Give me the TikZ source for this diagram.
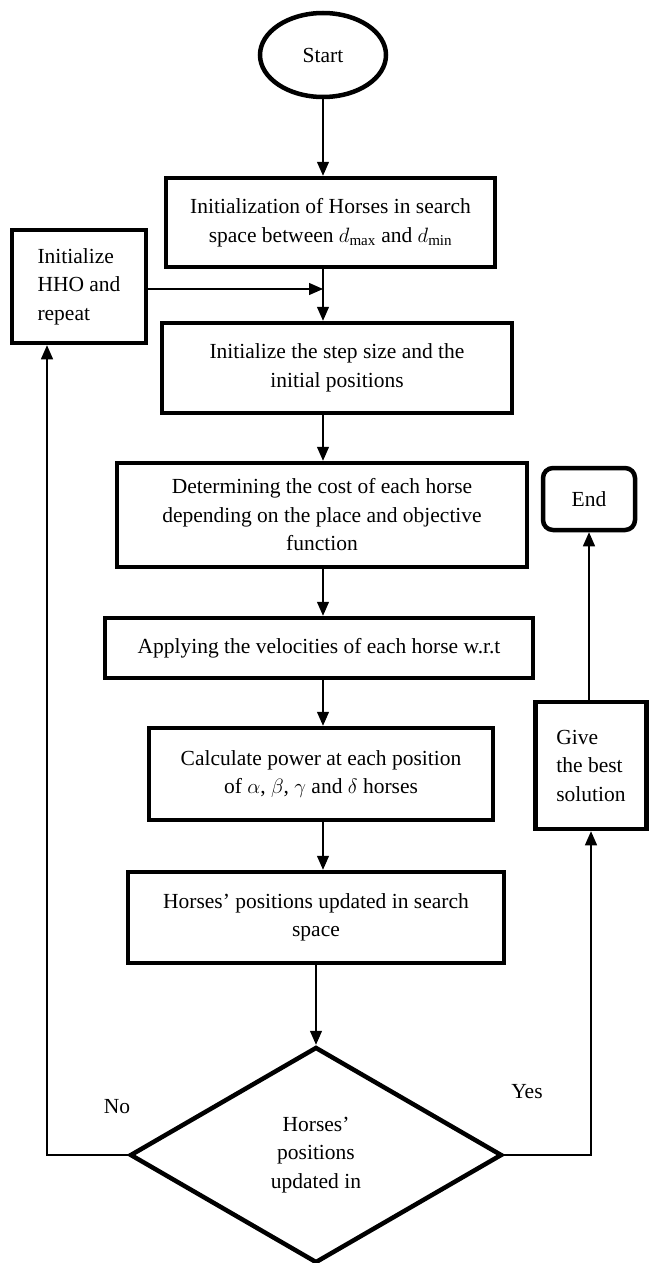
\documentclass[tikz,border=0pt]{standalone}
\usepackage{fontspec}
\setmainfont{Liberation Serif}
\usepackage{amssymb}
\usepackage{mathtools}
\usetikzlibrary{arrows.meta,shapes.geometric}

\tikzset{
  block/.style={draw=black, line width=4.5pt, align=center, inner sep=0pt},
  flow/.style={-{Triangle[length=14pt,width=12pt]}, line width=1.3pt},
}

\begin{document}
\begin{tikzpicture}[x=1pt,y=-1pt, font=\fontsize{21.5}{28.5}\selectfont]
     \useasboundingbox (0,0) rectangle (649,1263);
     \node[block, ellipse, minimum width=126pt, minimum height=84pt] (start) at (323,55) {Start};
     \node[block, minimum width=329pt, minimum height=89pt] (init) at (330.5,222.5)
          {Initialization of Horses in search\\ space between $d_{\max}$ and $d_{\min}$};
     \node[block, align=left, minimum width=134pt, minimum height=113pt] (hho) at (79,286.5)
          {Initialize\\ HHO and\\ repeat};
     \node[block, minimum width=350pt, minimum height=90pt] (step) at (337,368)
          {Initialize the step size and the\\ initial positions};
     \node[block, minimum width=410pt, minimum height=104pt] (cost) at (322,515)
          {Determining the cost of each horse\\ depending on the place and objective\\ function};
     \node[block, rounded corners=10pt, minimum width=92pt, minimum height=62pt] (end) at (589,499) {End};
     \node[block, minimum width=428pt, minimum height=60pt] (vel) at (319,648)
          {Applying the velocities of each horse w.r.t};
     \node[block, minimum width=344pt, minimum height=92pt] (power) at (321,774)
          {Calculate power at each position\\ of $\alpha$, $\beta$, $\gamma$ and $\delta$ horses};
     \node[block, align=left, minimum width=111pt, minimum height=127pt] (give) at (591,765.5)
          {Give\\ the best\\ solution};
     \node[block, minimum width=376pt, minimum height=91pt] (upd) at (316,917.5)
          {Horses’ positions updated in search\\ space};
     \node[block, diamond, aspect=1.72, minimum width=372pt, minimum height=216pt] (dec) at (316,1155)
          {Horses’\\ positions\\ updated in};
     \node (no) at (117,1107) {No};
     \node (yes) at (527,1092) {Yes};
     \coordinate (join) at (323,289);

     \draw[flow] (start.south) -- (start.south |- init.north);
     \draw[flow] (init.south -| start) -- (step.north -| start);
     \draw[flow] (hho.east |- join) -- (join);
     \draw[flow] (step.south -| start) -- (cost.north -| start);
     \draw[flow] (cost.south -| start) -- (vel.north -| start);
     \draw[flow] (vel.south -| start) -- (power.north -| start);
     \draw[flow] (power.south -| start) -- (upd.north -| start);
     \draw[flow] (upd.south -| dec) -- (dec.north);
     \draw[flow] (dec.west) -| ([xshift=-32pt]hho.south);
     \draw[flow] (dec.east) -| (give.south);
     \draw[flow] (give.north -| end) -- (end.south);
\end{tikzpicture}
\end{document}
